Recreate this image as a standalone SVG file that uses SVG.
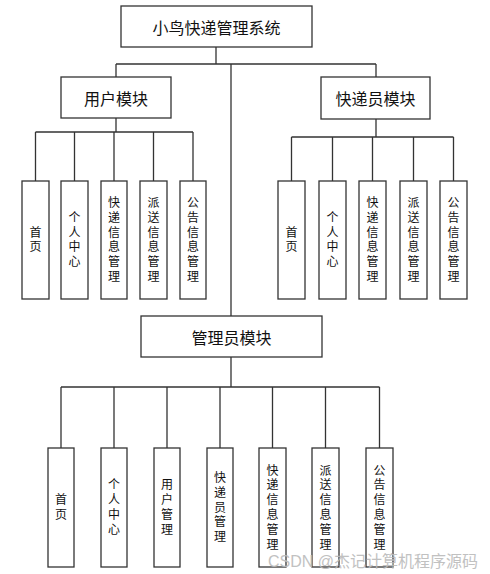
<svg xmlns="http://www.w3.org/2000/svg" width="490" height="574" viewBox="0 0 490 574">
<style>
.box{fill:#fff;stroke:#333;stroke-width:1.3}
.ln{fill:none;stroke:#333;stroke-width:1.3}
.t{font-family:"Noto Sans CJK SC","Noto Sans",sans-serif;fill:#111;text-anchor:middle;dominant-baseline:central}
.big{font-size:16px}
.sm{font-family:"Liberation Sans","Noto Sans CJK SC",sans-serif;font-size:12px}
.wm{font-family:"Liberation Sans","Noto Sans CJK SC",sans-serif;font-size:16px;fill:#bbb;opacity:0.9}
</style>
<rect width="490" height="574" fill="#fff"/>
<g id="connectors">
<path class="ln" d="M216 47V64M116 64H376M116 64V77M376 64V77M231 64V316"/>
<path class="ln" d="M116 118V132M35.5 132H193M35.5 132V181M74.5 132V181M114 132V181M153.5 132V181M193 132V181"/>
<path class="ln" d="M376 119V137M291.5 137H453.5M291.5 137V181M332.5 137V181M372.5 137V181M413.5 137V181M453.5 137V181"/>
<path class="ln" d="M231 357V387M61 387H379.5M61 387V448M114 387V448M167 387V448M220 387V448M272.5 387V448M325.5 387V448M379.5 387V448"/>
</g>
<g id="root"><rect class="box" x="121" y="6" width="191" height="41"/><text class="t big" x="216.5" y="27">小鸟快递管理系统</text></g>
<g id="user"><rect class="box" x="61" y="77" width="110" height="41"/><text class="t big" x="116" y="97.5">用户模块</text></g>
<g id="courier"><rect class="box" x="321" y="77" width="109" height="42"/><text class="t big" x="375.5" y="98">快递员模块</text></g>
<g id="admin"><rect class="box" x="141" y="316" width="181" height="41"/><text class="t big" x="231.5" y="336.5">管理员模块</text></g>

<g id="u1"><rect class="box" x="22" y="181" width="27" height="118"/><text class="t sm"><tspan x="35.5" y="232.6">首</tspan><tspan x="35.5" y="247.4">页</tspan></text></g>
<g id="u2"><rect class="box" x="61" y="181" width="27" height="118"/><text class="t sm"><tspan x="74.5" y="217.8">个</tspan><tspan x="74.5" y="232.6">人</tspan><tspan x="74.5" y="247.4">中</tspan><tspan x="74.5" y="262.2">心</tspan></text></g>
<g id="u3"><rect class="box" x="101" y="181" width="26" height="118"/><text class="t sm"><tspan x="114" y="203">快</tspan><tspan x="114" y="217.8">递</tspan><tspan x="114" y="232.6">信</tspan><tspan x="114" y="247.4">息</tspan><tspan x="114" y="262.2">管</tspan><tspan x="114" y="277">理</tspan></text></g>
<g id="u4"><rect class="box" x="140" y="181" width="27" height="118"/><text class="t sm"><tspan x="153.5" y="203">派</tspan><tspan x="153.5" y="217.8">送</tspan><tspan x="153.5" y="232.6">信</tspan><tspan x="153.5" y="247.4">息</tspan><tspan x="153.5" y="262.2">管</tspan><tspan x="153.5" y="277">理</tspan></text></g>
<g id="u5"><rect class="box" x="180" y="181" width="26" height="118"/><text class="t sm"><tspan x="193" y="203">公</tspan><tspan x="193" y="217.8">告</tspan><tspan x="193" y="232.6">信</tspan><tspan x="193" y="247.4">息</tspan><tspan x="193" y="262.2">管</tspan><tspan x="193" y="277">理</tspan></text></g>

<g id="c1"><rect class="box" x="278" y="181" width="27" height="118"/><text class="t sm"><tspan x="291.5" y="232.6">首</tspan><tspan x="291.5" y="247.4">页</tspan></text></g>
<g id="c2"><rect class="box" x="319" y="181" width="27" height="118"/><text class="t sm"><tspan x="332.5" y="217.8">个</tspan><tspan x="332.5" y="232.6">人</tspan><tspan x="332.5" y="247.4">中</tspan><tspan x="332.5" y="262.2">心</tspan></text></g>
<g id="c3"><rect class="box" x="359" y="181" width="27" height="118"/><text class="t sm"><tspan x="372.5" y="203">快</tspan><tspan x="372.5" y="217.8">递</tspan><tspan x="372.5" y="232.6">信</tspan><tspan x="372.5" y="247.4">息</tspan><tspan x="372.5" y="262.2">管</tspan><tspan x="372.5" y="277">理</tspan></text></g>
<g id="c4"><rect class="box" x="400" y="181" width="27" height="118"/><text class="t sm"><tspan x="413.5" y="203">派</tspan><tspan x="413.5" y="217.8">送</tspan><tspan x="413.5" y="232.6">信</tspan><tspan x="413.5" y="247.4">息</tspan><tspan x="413.5" y="262.2">管</tspan><tspan x="413.5" y="277">理</tspan></text></g>
<g id="c5"><rect class="box" x="440" y="181" width="27" height="118"/><text class="t sm"><tspan x="453.5" y="203">公</tspan><tspan x="453.5" y="217.8">告</tspan><tspan x="453.5" y="232.6">信</tspan><tspan x="453.5" y="247.4">息</tspan><tspan x="453.5" y="262.2">管</tspan><tspan x="453.5" y="277">理</tspan></text></g>

<g id="a1"><rect class="box" x="48" y="448" width="26" height="119"/><text class="t sm"><tspan x="61" y="500.1">首</tspan><tspan x="61" y="514.9">页</tspan></text></g>
<g id="a2"><rect class="box" x="101" y="448" width="26" height="119"/><text class="t sm"><tspan x="114" y="485.3">个</tspan><tspan x="114" y="500.1">人</tspan><tspan x="114" y="514.9">中</tspan><tspan x="114" y="529.7">心</tspan></text></g>
<g id="a3"><rect class="box" x="154" y="448" width="26" height="119"/><text class="t sm"><tspan x="167" y="485.3">用</tspan><tspan x="167" y="500.1">户</tspan><tspan x="167" y="514.9">管</tspan><tspan x="167" y="529.7">理</tspan></text></g>
<g id="a4"><rect class="box" x="207" y="448" width="26" height="119"/><text class="t sm"><tspan x="220" y="477.9">快</tspan><tspan x="220" y="492.7">递</tspan><tspan x="220" y="507.5">员</tspan><tspan x="220" y="522.3">管</tspan><tspan x="220" y="537.1">理</tspan></text></g>
<g id="a5"><rect class="box" x="259" y="448" width="27" height="119"/><text class="t sm"><tspan x="272.5" y="470.5">快</tspan><tspan x="272.5" y="485.3">递</tspan><tspan x="272.5" y="500.1">信</tspan><tspan x="272.5" y="514.9">息</tspan><tspan x="272.5" y="529.7">管</tspan><tspan x="272.5" y="544.5">理</tspan></text></g>
<g id="a6"><rect class="box" x="312" y="448" width="27" height="119"/><text class="t sm"><tspan x="325.5" y="470.5">派</tspan><tspan x="325.5" y="485.3">送</tspan><tspan x="325.5" y="500.1">信</tspan><tspan x="325.5" y="514.9">息</tspan><tspan x="325.5" y="529.7">管</tspan><tspan x="325.5" y="544.5">理</tspan></text></g>
<g id="a7"><rect class="box" x="366" y="448" width="27" height="119"/><text class="t sm"><tspan x="379.5" y="470.5">公</tspan><tspan x="379.5" y="485.3">告</tspan><tspan x="379.5" y="500.1">信</tspan><tspan x="379.5" y="514.9">息</tspan><tspan x="379.5" y="529.7">管</tspan><tspan x="379.5" y="544.5">理</tspan></text></g>

<text class="wm" x="268" y="567">CSDN @杰记计算机程序源码</text>
</svg>
